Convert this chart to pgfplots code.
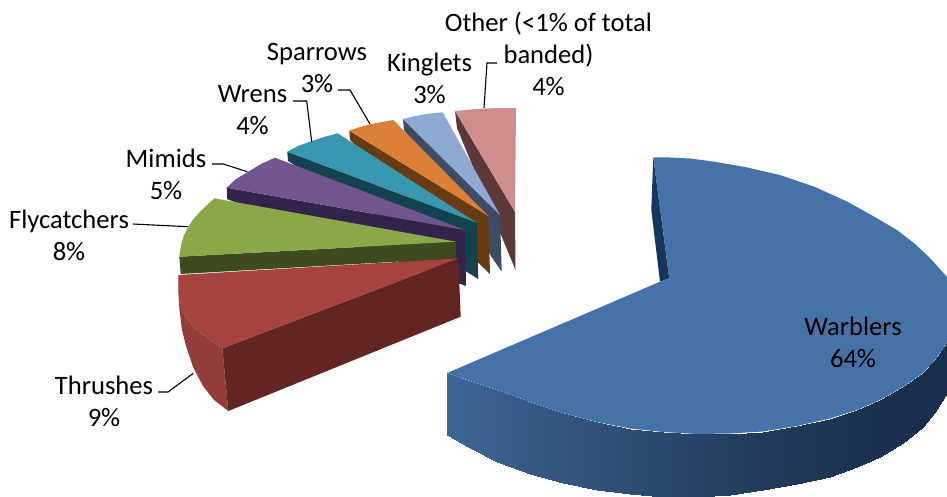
\documentclass[border=0pt]{standalone}
\usepackage{pgfplots}
\pgfplotsset{compat=1.18}
\usepackage{fontspec}
\setmainfont{Carlito}
\definecolor{wL}{HTML}{3F6795}
\definecolor{wR}{HTML}{1A2F4D}
\definecolor{wT}{HTML}{4572A7}
\definecolor{wI}{HTML}{17365D}
\definecolor{pS}{HTML}{5C3938}
\definecolor{pT}{HTML}{CE8E8D}
\definecolor{kS}{HTML}{3D4C66}
\definecolor{kT}{HTML}{8FA9D3}
\definecolor{sS}{HTML}{693B12}
\definecolor{sT}{HTML}{DA8137}
\definecolor{nS}{HTML}{15424F}
\definecolor{nT}{HTML}{3A97B0}
\definecolor{mS}{HTML}{33244A}
\definecolor{mT}{HTML}{71558F}
\definecolor{fS}{HTML}{3D4B1E}
\definecolor{fT}{HTML}{8CA748}
\definecolor{tR}{HTML}{933D39}
\definecolor{tS}{HTML}{632523}
\definecolor{tT}{HTML}{A6433F}
\newcommand{\lead}[1]{\addplot[black,line width=1.1pt] coordinates {#1};}
\begin{document}
\begin{tikzpicture}
\begin{axis}[
  scale only axis, width=947pt, height=496pt,
  xmin=0, xmax=947, ymin=0, ymax=496, y dir=reverse,
  axis line style={draw=none}, ticks=none, clip=true,
  colormap={wall}{color=(wL) color=(wR)}, point meta min=0, point meta max=100,
]
% Other
\addplot[fill=pS,draw=none] coordinates {(455,111) (515,212) (515.5,270) (457,128)} -- cycle;
\addplot[fill=pT,draw=none] coordinates {(455,111) (470,109.5) (485,108.5) (500,108) (516,108) (515,212)} -- cycle;
% Kinglets
\addplot[fill=kS,draw=none] coordinates {(403,119) (500,215) (501.7,271.7) (404,130)} -- cycle;
\addplot[fill=kT,draw=none] coordinates {(403,119) (415,116) (430,113.5) (442.7,112.3) (500,215)} -- cycle;
% Sparrows
\addplot[fill=sS,draw=none] coordinates {(349.3,130.7) (488.3,216) (490,274) (350,140)} -- cycle;
\addplot[fill=sT,draw=none] coordinates {(349.3,130.7) (360,127) (370,124.3) (382,122) (393.3,120) (488.3,216)} -- cycle;
% Wrens
\addplot[fill=nS,draw=none] coordinates {(287.3,151.7) (476.7,222.7) (478.3,279) (288,161)} -- cycle;
\addplot[fill=nT,draw=none] coordinates {(287.3,151.7) (298,146) (310,141.7) (324,137) (337.7,133.3) (476.7,222.7)} -- cycle;
% Mimids
\addplot[fill=mS,draw=none] coordinates {(226.7,187.7) (465,230) (466,286) (227.3,199.3)} -- cycle;
\addplot[fill=mT,draw=none] coordinates {(226.7,187.7) (236,179) (248.3,171.7) (261,164) (275,157.7) (465,230)} -- cycle;
% Flycatchers
\addplot[fill=fS,draw=none] coordinates {(179.3,256.7) (456,241.7) (456,258.3) (180.7,274)} -- cycle;
\addplot[fill=fT,draw=none] coordinates {(179.3,256.7) (181,245) (184,235) (188.3,226.7) (193.5,219) (200,211.7) (207,205) (214.3,198.3) (456,241.7)} -- cycle;
% Thrushes
\addplot[fill=tR,draw=none] coordinates {(178.3,275) (178.5,295) (179.5,310) (182,330) (186,346) (193,367) (203,386) (214,400) (228.3,411) (222.3,348.3) (207,338) (193.3,326.7) (186,317) (181,307)} -- cycle;
\addplot[fill=tS,draw=none] coordinates {(222.3,348.3) (458.3,258.3) (460.7,316.7) (228.3,411)} -- cycle;
\addplot[fill=tT,draw=none] coordinates {(178.3,275) (458.3,258.3) (222.3,348.3) (207,338) (193.3,326.7) (186,317) (181,307) (179,292)} -- cycle;
% Warblers
\addplot[fill=wI,draw=none] coordinates {(653.3,157.3) (651.3,210) (660,281.7) (669.3,278.3)} -- cycle;
\addplot[patch,patch type=rectangle,shader=interp,point meta=explicit] coordinates {
(447,373) [0] (470,381) [8] (470,448) [8] (447,435) [0]
(470,381) [8] (497,390) [16] (497,461.5) [16] (470,448) [8]
(497,390) [16] (530,402) [24] (530,473.5) [24] (497,461.5) [16]
(530,402) [24] (563,413) [32] (563,483) [32] (530,473.5) [24]
(563,413) [32] (597,422) [40] (597,490) [40] (563,483) [32]
(597,422) [40] (630,428.5) [48] (630,494) [48] (597,490) [40]
(630,428.5) [48] (663,432) [56] (663,496.5) [56] (630,494) [48]
(663,432) [56] (697,434) [64] (697,497) [64] (663,496.5) [56]
(697,434) [64] (730,433.5) [72] (730,495) [72] (697,497) [64]
(730,433.5) [72] (763,431.5) [80] (763,490) [80] (730,495) [72]
(763,431.5) [80] (797,426) [86] (797,484) [86] (763,490) [80]
(797,426) [86] (830,418.5) [90] (830,476.5) [90] (797,484) [86]
(830,418.5) [90] (857,410) [94] (857,467) [94] (830,476.5) [90]
(857,410) [94] (880,400) [97] (880,456.5) [97] (857,467) [94]
(880,400) [97] (903,387) [100] (903,443) [100] (880,456.5) [97]
(903,387) [100] (923,373) [100] (923,427) [100] (903,443) [100]
(923,373) [100] (935,360) [100] (935,412) [100] (923,427) [100]
(935,360) [100] (947,343) [100] (947,393) [100] (935,412) [100]
};
\addplot[fill=wT,draw=none] coordinates {(653.3,157.3) (670,157.5) (690,158.5) (713,161.5) (745,167) (780,175) (815,187) (847,201.5) (873,216) (897,230) (915,244) (930,258) (947,277) (947,343) (935,360) (923,373) (903,387) (880,400) (857,410) (830,418.5) (797,426) (763,431.5) (730,433.5) (697,434) (663,432) (630,428.5) (597,422) (563,413) (530,402) (497,390) (470,381) (447,373) (660,281.7) (669.3,278.3)} -- cycle;
% Leaders
\lead{(484,108) (487,63) (497,63)}
\lead{(370,124) (350,90) (338,90)}
\lead{(311.7,141.7) (306.7,101) (293,101)}
\lead{(247.3,171.7) (223.3,164) (212,164)}
\lead{(188,226.7) (133,224)}
\lead{(193.3,373.3) (168,392) (158,392)}
% Labels
\tikzset{lab/.style={align=center,text=black,font=\fontsize{26.6}{32}\selectfont,inner sep=0pt}}
\node[lab] at (axis cs:548.5,54) {Other (<1\% of total\\banded)\\4\%};
\node[lab] at (axis cs:429.5,78) {Kinglets\\3\%};
\node[lab] at (axis cs:317,68) {Sparrows\\3\%};
\node[lab] at (axis cs:252.5,110) {Wrens\\4\%};
\node[lab] at (axis cs:166,174) {Mimids\\5\%};
\node[lab] at (axis cs:69,235) {Flycatchers\\8\%};
\node[lab] at (axis cs:104,401) {Thrushes\\9\%};
\node[lab] at (axis cs:853,342) {Warblers\\64\%};
\end{axis}
\end{tikzpicture}
\end{document}
